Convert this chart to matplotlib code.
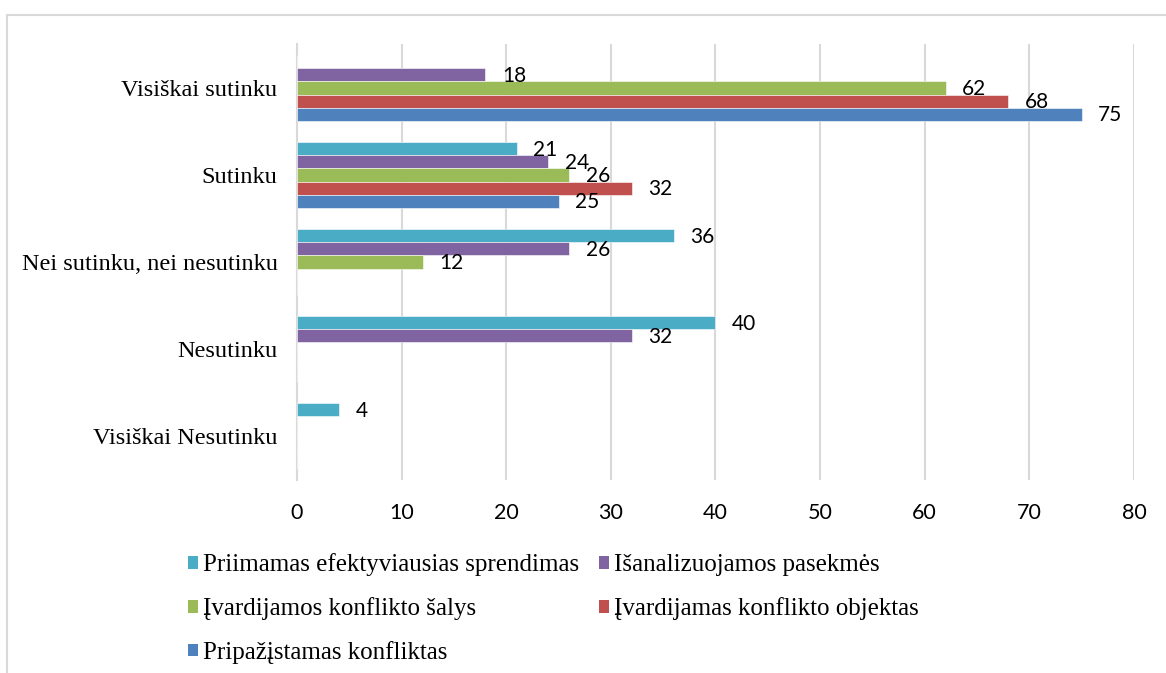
import matplotlib
matplotlib.use('Agg')

import numpy as np
import matplotlib.pyplot as plt
from matplotlib.patches import Patch, Rectangle

# categories as shown from top to bottom
categories = ["Visiškai sutinku", "Sutinku", "Nei sutinku, nei nesutinku",
              "Nesutinku", "Visiškai Nesutinku"]

series_names = ["Priimamas efektyviausias sprendimas",
                "Išanalizuojamos pasekmės",
                "Įvardijamos konflikto šalys",
                "Įvardijamas konflikto objektas",
                "Pripažįstamas konfliktas"]

priimamas = [0, 21, 36, 40, 4]
isanalizuojamos = [18, 24, 26, 32, 0]
salys = [62, 26, 12, 0, 0]
objektas = [68, 32, 0, 0, 0]
pripazistamas = [75, 25, 0, 0, 0]

colors = ["#4BACC6", "#8064A2", "#9BBB59", "#C0504D", "#4F81BD"]
x_ticks = [0, 10, 20, 30, 40, 50, 60, 70, 80]

serif = "Liberation Serif"
sans = "Lato"

fig = plt.figure(figsize=(11.66, 6.73), dpi=100)
ax = fig.add_axes([0.2547, 0.2875, 0.7178, 0.6464])

# chart frame
fig.patches.append(Rectangle((7 / 1166, -0.05), 1.1, 1.05 - 15 / 673,
                             transform=fig.transFigure, fill=False,
                             edgecolor="#d9d9d9", linewidth=1.5, zorder=0))

all_series = [priimamas, isanalizuojamos, salys, objektas, pripazistamas]
n_cat = len(categories)
ypos = np.arange(n_cat)[::-1]  # top category gets highest y
h = 0.15
offsets = [2 * h, h, 0, -h, -2 * h]

for vals, name, col, off in zip(all_series, series_names, colors, offsets):
    y = ypos + off
    ax.barh(y, vals, height=h, color=col, edgecolor="white", linewidth=0.4,
            label=name, zorder=3)
    for v, yy in zip(vals, y):
        if v == 0:
            continue
        ax.annotate(str(v), (v, yy), xytext=(12, -1), textcoords="offset points",
                    ha="left", va="center", fontsize=15, family=sans,
                    color="black", zorder=4)

ax.set_xlim(0, 80)
ax.set_ylim(-0.5, n_cat - 0.5)
ax.set_xticks(x_ticks)
ax.set_yticks(ypos)
ax.set_yticklabels(categories, family=serif, fontsize=17.5)
for lbl in ax.get_xticklabels():
    lbl.set_family(sans)
    lbl.set_fontsize(15.5)
ax.tick_params(axis="x", length=0, pad=17)
ax.tick_params(axis="y", length=0, pad=14)
ax.grid(axis="x", color="#d9d9d9", linewidth=1.5, zorder=0)
ax.set_axisbelow(True)
for s in ["top", "right", "bottom"]:
    ax.spines[s].set_visible(False)
ax.spines["left"].set_color("#d9d9d9")
ax.spines["left"].set_linewidth(1.5)

# legend laid out row by row in two columns
handles = [Patch(facecolor=c) for c in colors]
order = [0, 2, 4, 1, 3]
fig.legend([handles[i] for i in order], [series_names[i] for i in order],
           loc="upper left", bbox_to_anchor=(188 / 1166, 0.1776), ncol=2,
           frameon=False, prop={"family": serif, "size": 18},
           handlelength=0.4, handleheight=0.4, handletextpad=0.2,
           columnspacing=0.8, labelspacing=0.83, borderpad=0,
           borderaxespad=0)

fig.savefig("out.png", dpi=100)
